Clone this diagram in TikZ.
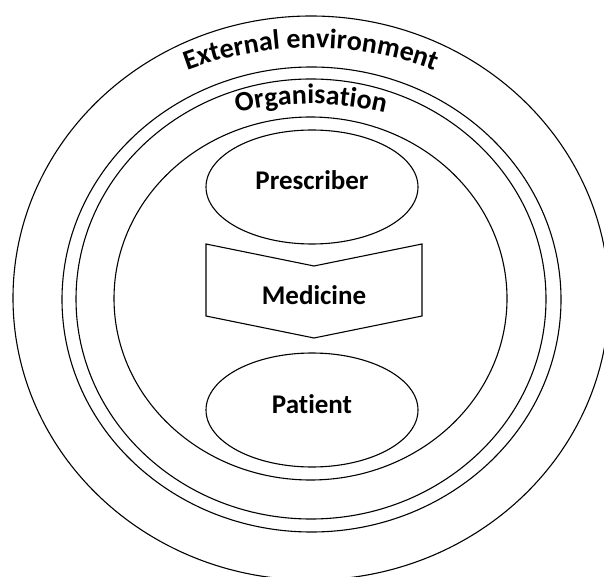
\documentclass[tikz,border=0pt]{standalone}
\usepackage{fontspec}
\setmainfont[Ligatures=NoCommon]{Carlito}
\usetikzlibrary{shapes.geometric,decorations.text}

\tikzset{
  ring/.style={ellipse, draw, line width=1.1pt, inner sep=0pt},
  actor/.style={ellipse, draw, line width=1.1pt, inner sep=0pt,
    minimum width=212pt, minimum height=114pt},
  lbl/.style={font=\bfseries\fontsize{27}{30}\selectfont, inner sep=0pt},
  arclbl/.style={decorate, decoration={text along path, text align=center,
    text={|\bfseries\fontsize{28}{31}\selectfont|#1}}}
}

\begin{document}
\begin{tikzpicture}[x=1pt, y=1pt]
  \useasboundingbox (0,0) rectangle (604,576);

  % nested context rings
  \node[ring, minimum width=596pt, minimum height=564pt] (env) at (311,278) {};
  \node[ring, minimum width=499pt, minimum height=465pt] (orgout) at (311.5,276.5) {};
  \node[ring, minimum width=470pt, minimum height=440pt] (orgin) at (311,277) {};
  \node[ring, minimum width=393pt, minimum height=363pt] (core) at (310.5,277.5) {};

  % curved ring titles
  \path[arclbl={External environment}]
    (311,173) ++(150:355) arc[start angle=150, end angle=30, radius=355];
  \path[arclbl={Organisation}]
    (311,160) ++(145:312) arc[start angle=145, end angle=35, radius=312];

  % prescriber and patient
  \node[actor] (pres) at (312,389) {};
  \node[lbl] (prestext) at ([yshift=7pt]pres.center) {Prescriber};
  \node[actor] (pat) at (312,166) {};
  \node[lbl] (pattext) at ([yshift=6pt]pat.center) {Patient};

  % medicine chevron
  \coordinate (mtl) at (206,332);
  \coordinate (mtn) at (314,310);
  \coordinate (mtr) at (422,332);
  \coordinate (mbr) at (422,260);
  \coordinate (mbp) at (314,238);
  \coordinate (mbl) at (206,260);
  \draw[line width=1.1pt] (mtl) -- (mtn) -- (mtr) -- (mbr) -- (mbp) -- (mbl) -- cycle;
  \node[lbl] (med) at (314,281) {Medicine};
\end{tikzpicture}
\end{document}
